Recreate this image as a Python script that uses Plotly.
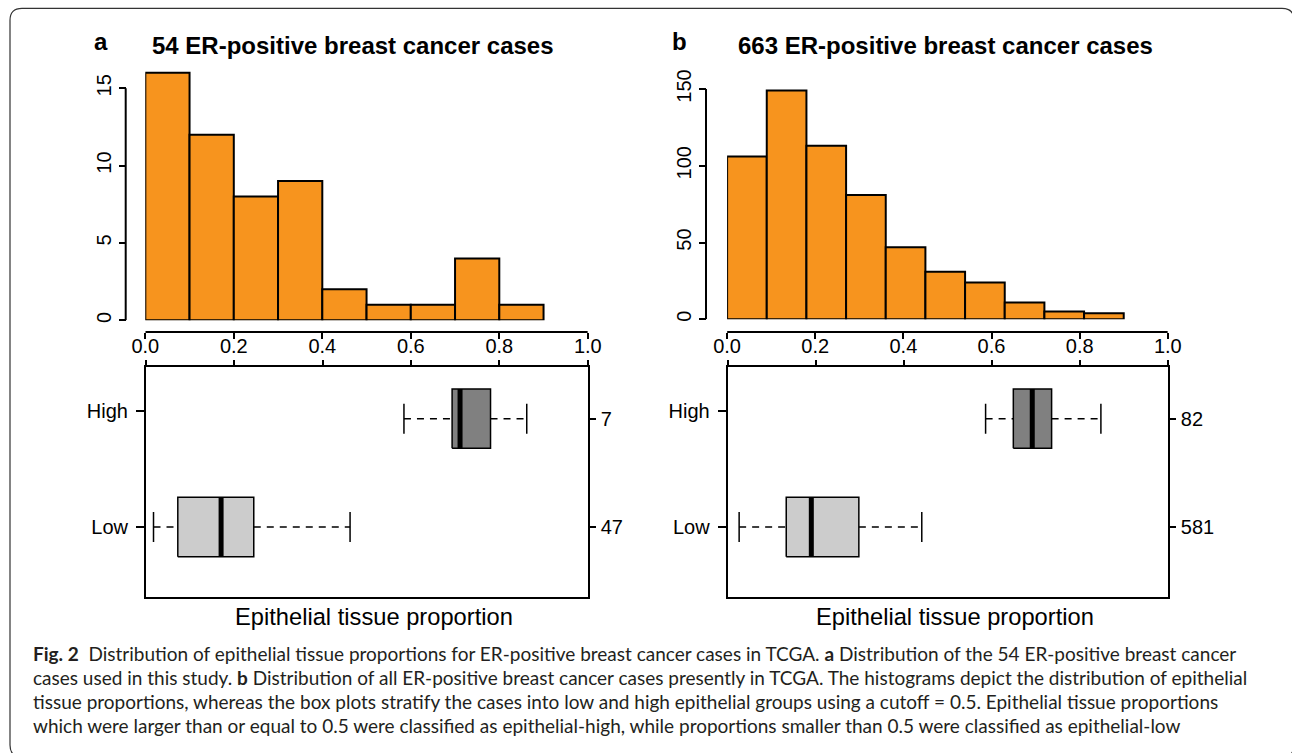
import plotly.graph_objects as go

# ---------------- data ----------------
hist_a_counts = [16, 12, 8, 9, 2, 1, 1, 4, 1]
hist_a_bin_width = 0.1
hist_b_counts = [106, 149, 113, 81, 47, 31, 24, 11, 5, 4]
hist_b_bin_width = 0.09

x_ticks = [0.0, 0.2, 0.4, 0.6, 0.8, 1.0]
x_tick_labels = ["0.0", "0.2", "0.4", "0.6", "0.8", "1.0"]
hist_a_yticks = [0, 5, 10, 15]
hist_b_yticks = [0, 50, 100, 150]

groups = ["Low", "High"]
group_pos = [1, 2]
group_label_pos = [1, 2.07]

box_a_whisk_lo = [0.017, 0.584]
box_a_q1 = [0.072, 0.693]
box_a_med = [0.170, 0.711]
box_a_q3 = [0.244, 0.780]
box_a_whisk_hi = [0.462, 0.862]
box_a_n = [47, 7]

box_b_whisk_lo = [0.026, 0.586]
box_b_q1 = [0.133, 0.649]
box_b_med = [0.190, 0.692]
box_b_q3 = [0.298, 0.736]
box_b_whisk_hi = [0.441, 0.848]
box_b_n = [581, 82]

box_fill = {"Low": "#CCCCCC", "High": "#808080"}

titles = ["54 ER-positive breast cancer cases", "663 ER-positive breast cancer cases"]
panel_letters = ["a", "b"]
xlabel = "Epithelial tissue proportion"

caption_lines = [
    "<b>Fig. 2</b>\u00a0\u00a0Distribution of epithelial tissue proportions for ER-positive breast cancer cases in TCGA. <b>a</b> Distribution of the 54 ER-positive breast cancer",
    "cases used in this study. <b>b</b> Distribution of all ER-positive breast cancer cases presently in TCGA. The histograms depict the distribution of epithelial",
    "tissue proportions, whereas the box plots stratify the cases into low and high epithelial groups using a cutoff = 0.5. Epithelial tissue proportions",
    "which were larger than or equal to 0.5 were classified as epithelial-high, while proportions smaller than 0.5 were classified as epithelial-low",
]

# ---------------- layout helpers ----------------
W, H = 1292, 753
def fx(px):
    return px / W
def fy(py):
    return 1 - py / H

FONT = "Liberation Sans, Arial, Helvetica, sans-serif"
ORANGE = "#F7941E"
BLACK = "#000000"

fig = go.Figure()

# ---------------- histograms ----------------
def add_hist(counts, bw, xa, ya):
    centers = [bw * (i + 0.5) for i in range(len(counts))]
    fig.add_trace(go.Bar(
        x=centers, y=counts, width=[bw] * len(counts),
        marker=dict(color=ORANGE, line=dict(color=BLACK, width=2)),
        xaxis=xa, yaxis=ya, showlegend=False, hoverinfo="x+y",
    ))

add_hist(hist_a_counts, hist_a_bin_width, "x", "y")
add_hist(hist_b_counts, hist_b_bin_width, "x2", "y2")

# ---------------- box plots ----------------
HALF = 0.274
STAPLE = 0.1385

def add_boxes(wlo, q1, med, q3, whi, xa, ya, ya_right):
    for i, g in enumerate(groups):
        p = group_pos[i]
        fig.add_trace(go.Scatter(
            x=[wlo[i], q1[i], None, q3[i], whi[i]],
            y=[p, p, None, p, p], mode="lines",
            line=dict(color=BLACK, width=1.4, dash="7px,6px"),
            xaxis=xa, yaxis=ya, showlegend=False, hoverinfo="skip"))
        fig.add_trace(go.Scatter(
            x=[wlo[i], wlo[i], None, whi[i], whi[i]],
            y=[p - STAPLE, p + STAPLE, None, p - STAPLE, p + STAPLE], mode="lines",
            line=dict(color=BLACK, width=1.5),
            xaxis=xa, yaxis=ya, showlegend=False, hoverinfo="skip"))
        fig.add_trace(go.Scatter(
            x=[q1[i], q3[i], q3[i], q1[i], q1[i]],
            y=[p - HALF, p - HALF, p + HALF, p + HALF, p - HALF],
            mode="lines", fill="toself", fillcolor=box_fill[g],
            line=dict(color=BLACK, width=1.5),
            xaxis=xa, yaxis=ya, showlegend=False, hoverinfo="skip"))
        fig.add_trace(go.Scatter(
            x=[med[i], med[i]], y=[p - HALF, p + HALF], mode="lines",
            line=dict(color=BLACK, width=5),
            xaxis=xa, yaxis=ya, showlegend=False, hoverinfo="skip"))
    # invisible trace so the right-hand count axis is drawn
    fig.add_trace(go.Scatter(
        x=med, y=group_pos, mode="markers", marker=dict(opacity=0, size=1),
        xaxis=xa, yaxis=ya_right, showlegend=False, hoverinfo="skip"))

add_boxes(box_a_whisk_lo, box_a_q1, box_a_med, box_a_q3, box_a_whisk_hi, "x3", "y3", "y5")
add_boxes(box_b_whisk_lo, box_b_q1, box_b_med, box_b_q3, box_b_whisk_hi, "x4", "y4", "y6")

# ---------------- axes ----------------
tickfont = dict(family=FONT, size=20, color=BLACK)
common = dict(showgrid=False, zeroline=False, tickcolor=BLACK, tickwidth=2,
              tickfont=tickfont, fixedrange=True, automargin=False)

HA = dict(x0=145.3, x1=587.8, y0=320.3, ppu=15.47, yaxis_px=125.7)
HB = dict(x0=727.1, x1=1167.8, y0=319.3, ppu=1.5353, yaxis_px=706.0)
HIST_TOP = 60.0
XAXIS_PY = 332.0
BOX_TOP, BOX_BOT = 366.7, 596.7
BOX_YR = [0.356, 2.48]
BA = dict(x0=146.0, x1=587.7)
BB = dict(x0=727.7, x1=1167.8)
XLAB_STANDOFF = -10

fig.update_layout(
    xaxis=dict(domain=[fx(HA["x0"]), fx(HA["x1"])], range=[0, 1], anchor="free",
               position=fy(XAXIS_PY), ticks="outside", ticklen=6,
               tickvals=x_ticks, ticktext=x_tick_labels, showline=False,
               ticklabelstandoff=XLAB_STANDOFF, **common),
    yaxis=dict(domain=[fy(HA["y0"]), fy(HIST_TOP)],
               range=[0, (HA["y0"] - HIST_TOP) / HA["ppu"]], anchor="free",
               position=fx(HA["yaxis_px"]), ticks="outside", ticklen=7,
               tickvals=hist_a_yticks, tickangle=-90, showline=False, **common),
    xaxis2=dict(domain=[fx(HB["x0"]), fx(HB["x1"])], range=[0, 1], anchor="free",
                position=fy(XAXIS_PY), ticks="outside", ticklen=6,
                tickvals=x_ticks, ticktext=x_tick_labels, showline=False,
                ticklabelstandoff=XLAB_STANDOFF, **common),
    yaxis2=dict(domain=[fy(HB["y0"]), fy(HIST_TOP)],
                range=[0, (HB["y0"] - HIST_TOP) / HB["ppu"]], anchor="free",
                position=fx(HB["yaxis_px"]), ticks="outside", ticklen=7,
                tickvals=hist_b_yticks, tickangle=-90, showline=False, **common),
    xaxis3=dict(domain=[fx(BA["x0"]), fx(BA["x1"])], range=[0, 1], anchor="y3",
                side="top", ticks="outside", ticklen=5, tickvals=x_ticks,
                showticklabels=False, showline=True, mirror=True, linecolor=BLACK,
                linewidth=2, **common),
    yaxis3=dict(domain=[fy(BOX_BOT), fy(BOX_TOP)], range=BOX_YR, anchor="x3",
                ticks="outside", ticklen=8, tickvals=group_label_pos, ticktext=groups,
                showline=True, mirror=True, linecolor=BLACK, linewidth=2,
                ticklabelstandoff=4, **common),
    yaxis5=dict(overlaying="y3", anchor="x3", side="right", range=BOX_YR,
                ticks="outside", ticklen=7, tickvals=group_pos,
                ticktext=[str(n) for n in box_a_n], showline=False,
                ticklabelstandoff=1, **common),
    xaxis4=dict(domain=[fx(BB["x0"]), fx(BB["x1"])], range=[0, 1], anchor="y4",
                side="top", ticks="outside", ticklen=5, tickvals=x_ticks,
                showticklabels=False, showline=True, mirror=True, linecolor=BLACK,
                linewidth=2, **common),
    yaxis4=dict(domain=[fy(BOX_BOT), fy(BOX_TOP)], range=BOX_YR, anchor="x4",
                ticks="outside", ticklen=8, tickvals=group_label_pos, ticktext=groups,
                showline=True, mirror=True, linecolor=BLACK, linewidth=2,
                ticklabelstandoff=4, **common),
    yaxis6=dict(overlaying="y4", anchor="x4", side="right", range=BOX_YR,
                ticks="outside", ticklen=7, tickvals=group_pos,
                ticktext=[str(n) for n in box_b_n], showline=False,
                ticklabelstandoff=1, **common),
)

shapes = []
for xa, ya, yt, ypx in [("x", "y", hist_a_yticks, HA["yaxis_px"]),
                        ("x2", "y2", hist_b_yticks, HB["yaxis_px"])]:
    shapes.append(dict(type="line", xref=xa, yref="paper",
                       x0=x_ticks[0], x1=x_ticks[-1], y0=fy(XAXIS_PY), y1=fy(XAXIS_PY),
                       line=dict(color=BLACK, width=2)))
    shapes.append(dict(type="line", xref="paper", yref=ya,
                       x0=fx(ypx), x1=fx(ypx), y0=yt[0], y1=yt[-1],
                       line=dict(color=BLACK, width=2)))

L, T, R_, B_, r = 10.0, 8.3, 1294.0, 757.0, 12.0
path = (f"M {fx(L + r)} {fy(T)} L {fx(R_ - r)} {fy(T)} "
        f"Q {fx(R_)} {fy(T)} {fx(R_)} {fy(T + r)} "
        f"L {fx(R_)} {fy(B_ - r)} Q {fx(R_)} {fy(B_)} {fx(R_ - r)} {fy(B_)} "
        f"L {fx(L + r)} {fy(B_)} Q {fx(L)} {fy(B_)} {fx(L)} {fy(B_ - r)} "
        f"L {fx(L)} {fy(T + r)} Q {fx(L)} {fy(T)} {fx(L + r)} {fy(T)} Z")
shapes.append(dict(type="path", xref="paper", yref="paper", path=path,
                   line=dict(color="#333333", width=1.2)))

ann = []
for letter, lx, title, tx in [(panel_letters[0], 101, titles[0], 352.7),
                              (panel_letters[1], 679, titles[1], 945.0)]:
    ann.append(dict(text=f"<b>{letter}</b>", x=fx(lx), y=fy(42), xref="paper", yref="paper",
                    xanchor="center", yanchor="middle", showarrow=False,
                    font=dict(family=FONT, size=24, color=BLACK)))
    ann.append(dict(text=f"<b>{title}</b>", x=fx(tx), y=fy(46), xref="paper", yref="paper",
                    xanchor="center", yanchor="middle", showarrow=False,
                    font=dict(family=FONT, size=24, color=BLACK)))
for cx in [373.6, 955.0]:
    ann.append(dict(text=xlabel, x=fx(cx), y=fy(617), xref="paper", yref="paper",
                    xanchor="center", yanchor="middle", showarrow=False,
                    font=dict(family=FONT, size=23.7, color=BLACK)))

CAP_FONT = "Lato, 'Open Sans', sans-serif"
for i, line in enumerate(caption_lines):
    ann.append(dict(text=line, x=fx(31), y=fy(653 + 24.3 * i), xref="paper", yref="paper",
                    xanchor="left", yanchor="middle", showarrow=False,
                    font=dict(family=CAP_FONT, size=19, color="#231F20")))

fig.update_layout(
    width=W, height=H, margin=dict(l=0, r=0, t=0, b=0, autoexpand=False),
    paper_bgcolor="white", plot_bgcolor="rgba(0,0,0,0)",
    shapes=shapes, annotations=ann, showlegend=False,
)

fig.write_html(
    "out.html",
    config={"displayModeBar": False},
    post_script="document.body.style.margin='0';document.body.style.overflow='hidden';"
                "document.documentElement.style.overflow='hidden';",
)
